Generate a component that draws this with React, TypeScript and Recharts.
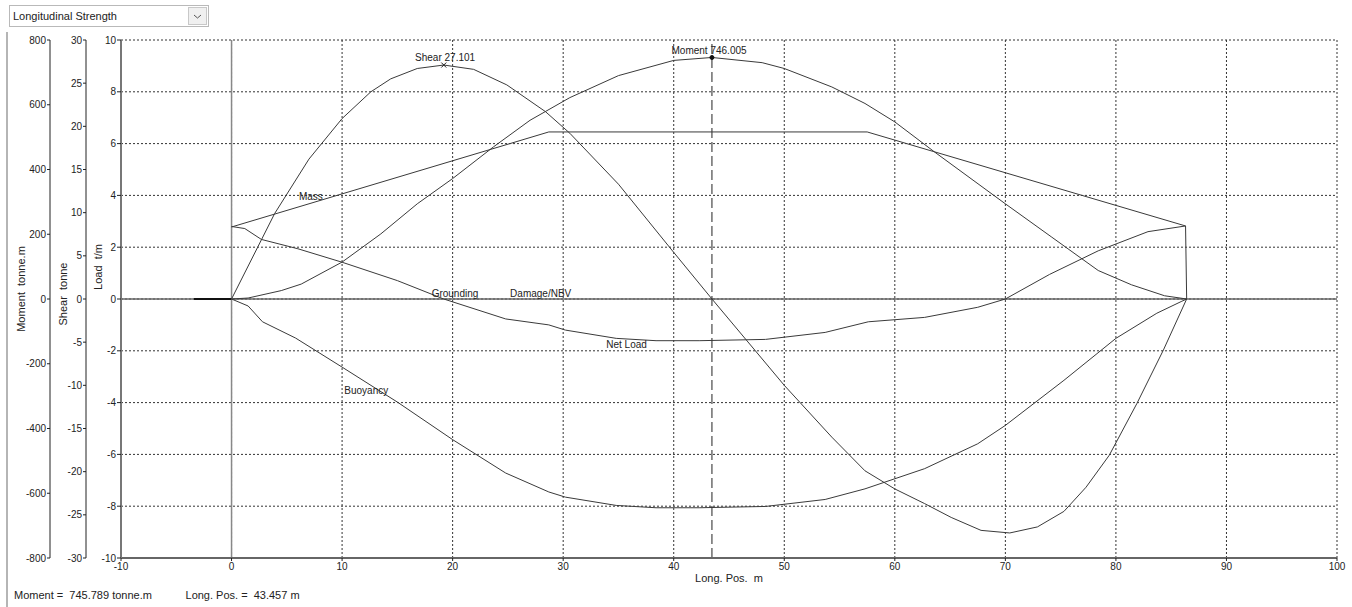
import {
  CartesianGrid,
  Line,
  LineChart,
  ReferenceDot,
  ReferenceLine,
  XAxis,
  YAxis,
} from "recharts";

// axis ticks
const xTicks = [-10, 0, 10, 20, 30, 40, 50, 60, 70, 80, 90, 100];
const loadTicks = [-10, -8, -6, -4, -2, 0, 2, 4, 6, 8, 10];
const shearTicks = [-30, -25, -20, -15, -10, -5, 0, 5, 10, 15, 20, 25, 30];
const momentTicks = [-800, -600, -400, -200, 0, 200, 400, 600, 800];

// Mass  t/m
const massX = [0, 28.7, 57.5, 86.3, 86.4];
const massLoad = [2.78, 6.45, 6.45, 2.82, 0];

// Buoyancy  t/m
const buoyX = [0, 1.5, 2.8, 5.8, 10, 15, 20, 24.8, 28.7, 30.2, 34.8, 38.4, 42.3, 48.3, 53.7, 57.3, 62.7, 67.5, 70, 75.3, 80, 83.7, 85.9, 86.4];
const buoyLoad = [0, -0.27, -0.88, -1.51, -2.63, -3.98, -5.43, -6.72, -7.45, -7.65, -7.97, -8.06, -8.06, -8.01, -7.74, -7.33, -6.55, -5.59, -4.88, -3.14, -1.52, -0.55, -0.1, 0];

// Net load  t/m
const netX = [0, 1.2, 2.7, 6.0, 10, 15, 19.2, 24.8, 28.7, 30.2, 34.8, 38.4, 42.3, 48.3, 53.7, 57.6, 62.7, 67.5, 70, 74, 78.4, 82.9, 86.3];
const netLoad = [2.8, 2.72, 2.3, 1.94, 1.42, 0.71, 0, -0.77, -1.0, -1.2, -1.52, -1.61, -1.61, -1.56, -1.29, -0.88, -0.71, -0.32, 0, 0.95, 1.86, 2.6, 2.82];

// Grounding stub  t/m
const groundX = [-3.4, 0];
const groundLoad = [0, 0];

// Shear  tonne
const shearX = [0, 3.9, 7, 10, 12.6, 14.4, 16.8, 19.2, 21.9, 24.9, 28.4, 30.6, 35, 40, 43.46, 50, 54.3, 57.3, 60, 62.7, 65.1, 67.8, 70.4, 72.9, 75.3, 77.3, 79.4, 81.9, 84.3, 86.4];
const shearVals = [0, 9.9, 16.2, 20.9, 24, 25.5, 26.7, 27.1, 26.6, 24.8, 21.7, 19.2, 13.3, 5.4, 0, -10, -16, -19.9, -22, -23.7, -25.3, -26.8, -27.1, -26.4, -24.6, -21.8, -18.1, -12.1, -5.9, 0];

// Moment  tonne.m
const momentX = [0, 1.5, 4.5, 6.3, 10, 13.5, 16.8, 20, 23.7, 27, 30.6, 35, 40, 43.46, 48, 50, 54.3, 57.3, 60, 63.6, 70, 74.2, 78.4, 81.4, 84.4, 86.4];
const momentVals = [0, 3, 26, 46, 114, 201, 294, 372, 470, 552, 622, 690, 737, 746, 730, 712, 655, 604, 547, 454, 294, 191, 88, 44, 10, 0];

// curve captions (load units)
const captionText = ["Shear 27.101", "Moment 746.005", "Mass", "Grounding", "Damage/NBV", "Net Load", "Buoyancy"];
const captionX = [16.6, 39.8, 6.1, 18.1, 25.2, 33.9, 10.2];
const captionY = [9.32, 9.58, 3.95, 0.23, 0.23, -1.76, -3.55];

const cursorX = 43.457;

const pts = (xs: number[], vs: number[]) => xs.map((x, i) => ({ x, v: vs[i] }));

const ink = "#222";
const curve = "#3a3a3a";

const axisTitle = (text: string, dx: number, dy: number) => (props: any) => {
  const vb = props.viewBox || {};
  const cx = vb.x + dx;
  const cy = vb.y + vb.height / 2 + dy;
  return (
    <text
      x={cx}
      y={cy}
      transform={`rotate(-90, ${cx}, ${cy})`}
      textAnchor="middle"
      dominantBaseline="central"
      fontSize={11}
      fill={ink}
      style={{ whiteSpace: "pre" }}
    >
      {text}
    </text>
  );
};

const xTitle = (props: any) => {
  const vb = props.viewBox || {};
  return (
    <text
      x={vb.x + vb.width / 2}
      y={vb.y + 20}
      textAnchor="middle"
      dominantBaseline="central"
      fontSize={11}
      fill={ink}
      style={{ whiteSpace: "pre" }}
    >
      {"Long. Pos.  m"}
    </text>
  );
};

const crossShape = (p: any) => (
  <path
    d={`M${p.cx - 2.5},${p.cy - 2.5}L${p.cx + 2.5},${p.cy + 2.5}M${p.cx - 2.5},${p.cy + 2.5}L${p.cx + 2.5},${p.cy - 2.5}`}
    stroke={ink}
    strokeWidth={1}
  />
);

export default function App() {
  const tick = { fontSize: 10, fill: ink };
  return (
    <div
      style={{
        position: "absolute",
        left: 0,
        top: 0,
        width: 1352,
        height: 607,
        background: "#fff",
        fontFamily: '"Liberation Sans", Arial, sans-serif',
        color: ink,
        overflow: "hidden",
      }}
    >
      {/* Chart */}
      <div style={{ position: "absolute", left: 0, top: 0 }}>
        <LineChart width={1352} height={607} margin={{ top: 40, right: 15, bottom: 29, left: 8 }}>
          <CartesianGrid
            yAxisId="y1load"
            stroke="#333"
            strokeDasharray="2 2"
            horizontalValues={loadTicks.slice(1)}
            verticalValues={xTicks.slice(1)}
          />
          <XAxis
            type="number"
            dataKey="x"
            domain={[-10, 100]}
            ticks={xTicks}
            interval={0}
            height={20}
            tick={tick}
            tickSize={3}
            tickMargin={2}
            axisLine={{ stroke: "#666", strokeWidth: 2 }}
            tickLine={{ stroke: ink }}
            label={{ content: xTitle }}
          />
          <YAxis
            yAxisId="y1load"
            type="number"
            domain={[-10, 10]}
            ticks={loadTicks}
            interval={0}
            width={35}
            tick={tick}
            tickSize={4}
            tickMargin={1}
            axisLine={{ stroke: "#777", strokeWidth: 2 }}
            tickLine={{ stroke: ink }}
            label={{ content: axisTitle("Load  t/m", 12, -32) }}
          />
          <YAxis
            yAxisId="y2shear"
            type="number"
            domain={[-30, 30]}
            ticks={shearTicks}
            interval={0}
            width={36}
            tick={tick}
            tickSize={3}
            tickMargin={1}
            axisLine={{ stroke: ink }}
            tickLine={{ stroke: ink }}
            label={{ content: axisTitle("Shear  tonne", 13, -5) }}
          />
          <YAxis
            yAxisId="y3moment"
            type="number"
            domain={[-800, 800]}
            ticks={momentTicks}
            interval={0}
            width={42}
            tick={tick}
            tickSize={3}
            tickMargin={1}
            axisLine={{ stroke: ink }}
            tickLine={{ stroke: ink }}
            label={{ content: axisTitle("Moment  tonne.m", 13, -10) }}
          />

          <ReferenceLine yAxisId="y1load" y={0} stroke="#666" strokeWidth={1.5} />
          <ReferenceLine yAxisId="y1load" x={0} stroke="#888" strokeWidth={1.5} />
          <ReferenceLine yAxisId="y1load" x={cursorX} stroke="#222" strokeDasharray="10 4" />

          <Line yAxisId="y1load" data={pts(groundX, groundLoad)} dataKey="v" type="linear" stroke="#111" strokeWidth={2} dot={false} isAnimationActive={false} />
          <Line yAxisId="y1load" data={pts(massX, massLoad)} dataKey="v" type="linear" stroke={curve} strokeWidth={1} dot={false} isAnimationActive={false} />
          <Line yAxisId="y1load" data={pts(buoyX, buoyLoad)} dataKey="v" type="linear" stroke={curve} strokeWidth={1} dot={false} isAnimationActive={false} />
          <Line yAxisId="y1load" data={pts(netX, netLoad)} dataKey="v" type="linear" stroke={curve} strokeWidth={1} dot={false} isAnimationActive={false} />
          <Line yAxisId="y2shear" data={pts(shearX, shearVals)} dataKey="v" type="linear" stroke={curve} strokeWidth={1} dot={false} isAnimationActive={false} />
          <Line yAxisId="y3moment" data={pts(momentX, momentVals)} dataKey="v" type="linear" stroke={curve} strokeWidth={1} dot={false} isAnimationActive={false} />

          <ReferenceDot yAxisId="y2shear" x={19.2} y={27.1} r={3} shape={crossShape} />
          <ReferenceDot yAxisId="y3moment" x={cursorX} y={746} r={2} fill="#111" stroke="#111" />

          {captionText.map((t, i) => (
            <ReferenceDot
              key={t}
              yAxisId="y1load"
              x={captionX[i]}
              y={captionY[i]}
              r={0}
              fill="none"
              stroke="none"
              label={{ value: t, position: "right", offset: 0, fontSize: 10, fill: ink }}
            />
          ))}
        </LineChart>
      </div>

      {/* Left frame */}
      <div style={{ position: "absolute", left: 6, top: 32, width: 2, height: 575, background: "#b5b5b5" }} />

      {/* Selector */}
      <div
        style={{
          position: "absolute",
          left: 9,
          top: 5,
          width: 195,
          height: 20,
          border: "1px solid #b9b9b9",
          background: "#fff",
          fontSize: 11,
          lineHeight: "20px",
          paddingLeft: 3,
          boxSizing: "content-box",
        }}
      >
        Longitudinal Strength
        <div
          style={{
            position: "absolute",
            right: 1,
            top: 1,
            width: 17,
            height: 16,
            border: "1px solid #c8c8c8",
            background: "#f0f0f0",
          }}
        >
          <svg width={17} height={16}>
            <polyline points="5,7 8.5,10 12,7" fill="none" stroke="#555" strokeWidth={1} />
          </svg>
        </div>
      </div>

      {/* Status */}
      <div style={{ position: "absolute", left: 14, top: 589, fontSize: 11, whiteSpace: "pre", color: ink }}>
        {"Moment =  745.789 tonne.m           Long. Pos. =  43.457 m"}
      </div>
    </div>
  );
}
